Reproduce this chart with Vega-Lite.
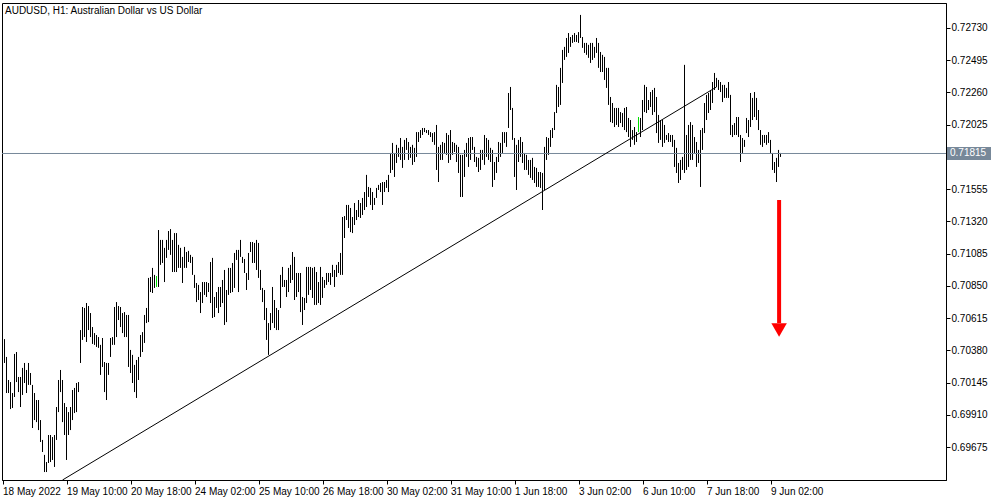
{
"$schema": "https://vega.github.io/schema/vega-lite/v6.json",
"width": 944, "height": 477,
"autosize": "none",
"padding": {"left": 2, "top": 3, "right": 54, "bottom": 20},
"background": "white",
"config": {"view": {"stroke": "black", "strokeWidth": 1}, "font": "Liberation Sans", "axis": {"labelOverlap": false, "labelFlush": false, "labelBound": false, "grid": false}},
"datasets": {
"bars": [
{"i":0,"h":0.70462,"l":0.70288},{"i":1,"h":0.70332,"l":0.70069},{"i":2,"h":0.70164,"l":0.70069},{"i":3,"h":0.70149,"l":0.69952},{"i":4,"h":0.70069,"l":0.69960},
{"i":5,"h":0.70354,"l":0.70040},{"i":6,"h":0.70368,"l":0.70149},{"i":7,"h":0.70186,"l":0.70076},{"i":8,"h":0.70186,"l":0.69967},{"i":9,"h":0.70252,"l":0.70055},
{"i":10,"h":0.70288,"l":0.70142},{"i":11,"h":0.70237,"l":0.70069},{"i":12,"h":0.70288,"l":0.70128},{"i":13,"h":0.70215,"l":0.70128},{"i":14,"h":0.70128,"l":0.69814},
{"i":15,"h":0.70069,"l":0.69872},{"i":16,"h":0.70018,"l":0.69857},{"i":17,"h":0.70018,"l":0.69799},{"i":18,"h":0.69872,"l":0.69712},{"i":19,"h":0.69727,"l":0.69639},
{"i":20,"h":0.69618,"l":0.69493},{"i":21,"h":0.69566,"l":0.69493},{"i":22,"h":0.69763,"l":0.69559},{"i":23,"h":0.69763,"l":0.69566},{"i":24,"h":0.69748,"l":0.69581},
{"i":25,"h":0.69763,"l":0.69530},{"i":26,"h":0.69967,"l":0.69727},{"i":27,"h":0.70164,"l":0.69930},{"i":28,"h":0.70237,"l":0.70076},{"i":29,"h":0.70164,"l":0.69857},
{"i":30,"h":0.69996,"l":0.69763},{"i":31,"h":0.69967,"l":0.69581},{"i":32,"h":0.69930,"l":0.69763},{"i":33,"h":0.69967,"l":0.69799},{"i":34,"h":0.70091,"l":0.69872},
{"i":35,"h":0.70106,"l":0.69923},{"i":36,"h":0.70142,"l":0.69930},{"i":37,"h":0.70149,"l":0.70076},{"i":38,"h":0.70528,"l":0.70288},{"i":39,"h":0.70696,"l":0.70456},
{"i":40,"h":0.70689,"l":0.70477},{"i":41,"h":0.70725,"l":0.70441},{"i":42,"h":0.70703,"l":0.70528},{"i":43,"h":0.70652,"l":0.70477},{"i":44,"h":0.70550,"l":0.70427},
{"i":45,"h":0.70506,"l":0.70420},{"i":46,"h":0.70492,"l":0.70405},{"i":47,"h":0.70477,"l":0.70398},{"i":48,"h":0.70420,"l":0.70201},{"i":49,"h":0.70470,"l":0.70259},
{"i":50,"h":0.70295,"l":0.70076},{"i":51,"h":0.70288,"l":0.70018},{"i":52,"h":0.70288,"l":0.70201},{"i":53,"h":0.70470,"l":0.70332},{"i":54,"h":0.70477,"l":0.70420},
{"i":55,"h":0.70696,"l":0.70420},{"i":56,"h":0.70732,"l":0.70477},{"i":57,"h":0.70703,"l":0.70601},{"i":58,"h":0.70696,"l":0.70550},{"i":59,"h":0.70652,"l":0.70506},
{"i":60,"h":0.70659,"l":0.70477},{"i":61,"h":0.70638,"l":0.70477},{"i":62,"h":0.70638,"l":0.70259},{"i":63,"h":0.70383,"l":0.70215},{"i":64,"h":0.70347,"l":0.70142},
{"i":65,"h":0.70274,"l":0.70076},{"i":66,"h":0.70310,"l":0.70033},{"i":67,"h":0.70332,"l":0.70164},{"i":68,"h":0.70492,"l":0.70332},{"i":69,"h":0.70513,"l":0.70368},
{"i":70,"h":0.70638,"l":0.70434},{"i":71,"h":0.70689,"l":0.70579},{"i":72,"h":0.70908,"l":0.70586},{"i":73,"h":0.70915,"l":0.70805},{"i":74,"h":0.70981,"l":0.70798},
{"i":75,"h":0.70930,"l":0.70835},{"i":76,"h":0.70922,"l":0.70842,"t":"g"},{"i":77,"h":0.71257,"l":0.70842},{"i":78,"h":0.71185,"l":0.71003},{"i":79,"h":0.71185,"l":0.71017},
{"i":80,"h":0.71127,"l":0.70878},{"i":81,"h":0.71185,"l":0.71054},{"i":82,"h":0.71250,"l":0.71112},{"i":83,"h":0.71264,"l":0.71076},{"i":84,"h":0.71185,"l":0.70951},
{"i":85,"h":0.71235,"l":0.70951},{"i":86,"h":0.71235,"l":0.70951},{"i":87,"h":0.71149,"l":0.70981},{"i":88,"h":0.71127,"l":0.70981},{"i":89,"h":0.71061,"l":0.70871},
{"i":90,"h":0.71134,"l":0.70981},{"i":91,"h":0.71097,"l":0.70981},{"i":92,"h":0.71105,"l":0.71024},{"i":93,"h":0.71076,"l":0.71017},{"i":94,"h":0.71061,"l":0.70930},
{"i":95,"h":0.70930,"l":0.70835},{"i":96,"h":0.70871,"l":0.70732},{"i":97,"h":0.70857,"l":0.70747},{"i":98,"h":0.70805,"l":0.70652},{"i":99,"h":0.70878,"l":0.70725},
{"i":100,"h":0.70878,"l":0.70784},{"i":101,"h":0.70878,"l":0.70769},{"i":102,"h":0.70871,"l":0.70805},{"i":103,"h":0.71024,"l":0.70725},{"i":104,"h":0.71054,"l":0.70616},
{"i":105,"h":0.70769,"l":0.70623},{"i":106,"h":0.70805,"l":0.70689},{"i":107,"h":0.70842,"l":0.70652},{"i":108,"h":0.70842,"l":0.70696},{"i":109,"h":0.70893,"l":0.70725},
{"i":110,"h":0.70966,"l":0.70565},{"i":111,"h":0.70820,"l":0.70586},{"i":112,"h":0.70981,"l":0.70784},{"i":113,"h":0.70981,"l":0.70798},{"i":114,"h":0.71017,"l":0.70805},
{"i":115,"h":0.71090,"l":0.70835},{"i":116,"h":0.71112,"l":0.71039},{"i":117,"h":0.71112,"l":0.70805},{"i":118,"h":0.71185,"l":0.71061},{"i":119,"h":0.71061,"l":0.71017},
{"i":120,"h":0.71046,"l":0.70944},{"i":121,"h":0.70944,"l":0.70820},{"i":122,"h":0.71090,"l":0.70893},{"i":123,"h":0.71170,"l":0.71097},{"i":124,"h":0.71170,"l":0.71017},
{"i":125,"h":0.71163,"l":0.71017},{"i":126,"h":0.71185,"l":0.70966},{"i":127,"h":0.71163,"l":0.70908},{"i":128,"h":0.70966,"l":0.70820},{"i":129,"h":0.70835,"l":0.70732},
{"i":130,"h":0.70820,"l":0.70601},{"i":131,"h":0.70689,"l":0.70456},{"i":132,"h":0.70579,"l":0.70347},{"i":133,"h":0.70652,"l":0.70528},{"i":134,"h":0.70842,"l":0.70579},
{"i":135,"h":0.70747,"l":0.70543},{"i":136,"h":0.70689,"l":0.70528},{"i":137,"h":0.70674,"l":0.70528},{"i":138,"h":0.70930,"l":0.70689},{"i":139,"h":0.70988,"l":0.70842},
{"i":140,"h":0.70893,"l":0.70842},{"i":141,"h":0.70893,"l":0.70769},{"i":142,"h":0.70981,"l":0.70805},{"i":143,"h":0.71003,"l":0.70871},{"i":144,"h":0.71097,"l":0.70893},
{"i":145,"h":0.71061,"l":0.70747},{"i":146,"h":0.70944,"l":0.70769},{"i":147,"h":0.70944,"l":0.70805},{"i":148,"h":0.70944,"l":0.70659},{"i":149,"h":0.70769,"l":0.70565},
{"i":150,"h":0.70762,"l":0.70674},{"i":151,"h":0.70988,"l":0.70725},{"i":152,"h":0.70988,"l":0.70784},{"i":153,"h":0.70988,"l":0.70820},{"i":154,"h":0.70981,"l":0.70762},
{"i":155,"h":0.70988,"l":0.70711},{"i":156,"h":0.70951,"l":0.70711},{"i":157,"h":0.70878,"l":0.70725},{"i":158,"h":0.70988,"l":0.70711},{"i":159,"h":0.70915,"l":0.70762},
{"i":160,"h":0.70893,"l":0.70835},{"i":161,"h":0.70944,"l":0.70857},{"i":162,"h":0.70944,"l":0.70878},{"i":163,"h":0.70944,"l":0.70857},{"i":164,"h":0.71003,"l":0.70915},
{"i":165,"h":0.70966,"l":0.70842},{"i":166,"h":0.71003,"l":0.70915},{"i":167,"h":0.71024,"l":0.70944},{"i":168,"h":0.71090,"l":0.70930},{"i":169,"h":0.71352,"l":0.70930},
{"i":170,"h":0.71359,"l":0.71199},{"i":171,"h":0.71440,"l":0.71330},{"i":172,"h":0.71440,"l":0.71272},{"i":173,"h":0.71418,"l":0.71242},{"i":174,"h":0.71352,"l":0.71235},
{"i":175,"h":0.71454,"l":0.71294},{"i":176,"h":0.71403,"l":0.71330},{"i":177,"h":0.71476,"l":0.71352},{"i":178,"h":0.71454,"l":0.71345},{"i":179,"h":0.71491,"l":0.71367},
{"i":180,"h":0.71534,"l":0.71403},{"i":181,"h":0.71659,"l":0.71425},{"i":182,"h":0.71571,"l":0.71498},{"i":183,"h":0.71564,"l":0.71440},{"i":184,"h":0.71534,"l":0.71403},
{"i":185,"h":0.71491,"l":0.71440},{"i":186,"h":0.71564,"l":0.71491},{"i":187,"h":0.71586,"l":0.71549},{"i":188,"h":0.71600,"l":0.71534},{"i":189,"h":0.71607,"l":0.71440},
{"i":190,"h":0.71607,"l":0.71534},{"i":191,"h":0.71622,"l":0.71564},{"i":192,"h":0.71659,"l":0.71534},{"i":193,"h":0.71819,"l":0.71673},{"i":194,"h":0.71892,"l":0.71695},
{"i":195,"h":0.71819,"l":0.71644},{"i":196,"h":0.71878,"l":0.71746},{"i":197,"h":0.71856,"l":0.71790},{"i":198,"h":0.71928,"l":0.71768},{"i":199,"h":0.71863,"l":0.71710},
{"i":200,"h":0.71914,"l":0.71768},{"i":201,"h":0.71928,"l":0.71841},{"i":202,"h":0.71899,"l":0.71768},{"i":203,"h":0.71863,"l":0.71783},{"i":204,"h":0.71878,"l":0.71732},
{"i":205,"h":0.71856,"l":0.71753},{"i":206,"h":0.71971,"l":0.71790},{"i":207,"h":0.71971,"l":0.71899},{"i":208,"h":0.71986,"l":0.71928},{"i":209,"h":0.72001,"l":0.71950},
{"i":210,"h":0.72001,"l":0.71971},{"i":211,"h":0.71986,"l":0.71964},{"i":212,"h":0.71986,"l":0.71950},{"i":213,"h":0.71971,"l":0.71935},{"i":214,"h":0.71964,"l":0.71899},
{"i":215,"h":0.71971,"l":0.71878},{"i":216,"h":0.72023,"l":0.71695},{"i":217,"h":0.71863,"l":0.71607},{"i":218,"h":0.71878,"l":0.71768},{"i":219,"h":0.71899,"l":0.71768},
{"i":220,"h":0.71892,"l":0.71819},{"i":221,"h":0.71964,"l":0.71805},{"i":222,"h":0.71950,"l":0.71746},{"i":223,"h":0.71986,"l":0.71768},{"i":224,"h":0.71899,"l":0.71805},
{"i":225,"h":0.71892,"l":0.71826},{"i":226,"h":0.71878,"l":0.71753},{"i":227,"h":0.71863,"l":0.71673},{"i":228,"h":0.71805,"l":0.71498},{"i":229,"h":0.71805,"l":0.71498},
{"i":230,"h":0.71841,"l":0.71644},{"i":231,"h":0.71892,"l":0.71790},{"i":232,"h":0.71928,"l":0.71717},{"i":233,"h":0.71935,"l":0.71768},{"i":234,"h":0.71935,"l":0.71841},
{"i":235,"h":0.71863,"l":0.71753},{"i":236,"h":0.71790,"l":0.71717},{"i":237,"h":0.71783,"l":0.71680},{"i":238,"h":0.71841,"l":0.71695},{"i":239,"h":0.71841,"l":0.71768},
{"i":240,"h":0.71950,"l":0.71732},{"i":241,"h":0.71928,"l":0.71790},{"i":242,"h":0.71914,"l":0.71768},{"i":243,"h":0.71856,"l":0.71753},{"i":244,"h":0.71841,"l":0.71571},
{"i":245,"h":0.71753,"l":0.71622},{"i":246,"h":0.71790,"l":0.71673},{"i":247,"h":0.71899,"l":0.71753},{"i":248,"h":0.71892,"l":0.71790},{"i":249,"h":0.71971,"l":0.71819},
{"i":250,"h":0.71971,"l":0.71892},{"i":251,"h":0.71971,"l":0.71863},{"i":252,"h":0.72256,"l":0.72001},{"i":253,"h":0.72300,"l":0.72132},{"i":254,"h":0.72147,"l":0.71914},
{"i":255,"h":0.71928,"l":0.71644},{"i":256,"h":0.71878,"l":0.71549},{"i":257,"h":0.71914,"l":0.71753},{"i":258,"h":0.71935,"l":0.71790},{"i":259,"h":0.71899,"l":0.71746},
{"i":260,"h":0.71819,"l":0.71695},{"i":261,"h":0.71805,"l":0.71695},{"i":262,"h":0.71768,"l":0.71659},{"i":263,"h":0.71768,"l":0.71637},{"i":264,"h":0.71783,"l":0.71622},
{"i":265,"h":0.71717,"l":0.71600},{"i":266,"h":0.71710,"l":0.71571},{"i":267,"h":0.71680,"l":0.71571},{"i":268,"h":0.71680,"l":0.71564},{"i":269,"h":0.71673,"l":0.71403},
{"i":270,"h":0.71863,"l":0.71549},{"i":271,"h":0.71935,"l":0.71768},{"i":272,"h":0.71928,"l":0.71805},{"i":273,"h":0.71986,"l":0.71863},{"i":274,"h":0.72001,"l":0.71928},
{"i":275,"h":0.72117,"l":0.71986},{"i":276,"h":0.72315,"l":0.72110},{"i":277,"h":0.72300,"l":0.72154},{"i":278,"h":0.72439,"l":0.72169},{"i":279,"h":0.72570,"l":0.72329},
{"i":280,"h":0.72592,"l":0.72497},{"i":281,"h":0.72657,"l":0.72519},{"i":282,"h":0.72693,"l":0.72548},{"i":283,"h":0.72664,"l":0.72592},{"i":284,"h":0.72679,"l":0.72621},
{"i":285,"h":0.72693,"l":0.72628},{"i":286,"h":0.72679,"l":0.72628},{"i":287,"h":0.72700,"l":0.72621},{"i":288,"h":0.72825,"l":0.72657},{"i":289,"h":0.72664,"l":0.72585},
{"i":290,"h":0.72621,"l":0.72548},{"i":291,"h":0.72621,"l":0.72534},{"i":292,"h":0.72607,"l":0.72512},{"i":293,"h":0.72621,"l":0.72475},{"i":294,"h":0.72621,"l":0.72497},
{"i":295,"h":0.72592,"l":0.72512},{"i":296,"h":0.72657,"l":0.72548},{"i":297,"h":0.72621,"l":0.72439},{"i":298,"h":0.72555,"l":0.72409},{"i":299,"h":0.72534,"l":0.72409},
{"i":300,"h":0.72519,"l":0.72351},{"i":301,"h":0.72439,"l":0.72293},{"i":302,"h":0.72439,"l":0.72169},{"i":303,"h":0.72227,"l":0.72044},{"i":304,"h":0.72183,"l":0.72037},
{"i":305,"h":0.72147,"l":0.72008},{"i":306,"h":0.72147,"l":0.72023},{"i":307,"h":0.72147,"l":0.72008},{"i":308,"h":0.72117,"l":0.72037},{"i":309,"h":0.72110,"l":0.72008},
{"i":310,"h":0.72147,"l":0.71986},{"i":311,"h":0.72154,"l":0.71971},{"i":312,"h":0.72074,"l":0.71935},{"i":313,"h":0.72059,"l":0.71863},{"i":314,"h":0.71986,"l":0.71914},
{"i":315,"h":0.72008,"l":0.71878},{"i":316,"h":0.71971,"l":0.71899},{"i":317,"h":0.72081,"l":0.71971,"t":"g"},{"i":318,"h":0.72074,"l":0.71935},{"i":319,"h":0.72205,"l":0.71986},
{"i":320,"h":0.72315,"l":0.72117},{"i":321,"h":0.72300,"l":0.72110},{"i":322,"h":0.72205,"l":0.72132},{"i":323,"h":0.72263,"l":0.72154},{"i":324,"h":0.72278,"l":0.72096},
{"i":325,"h":0.72293,"l":0.72117},{"i":326,"h":0.72227,"l":0.71964},{"i":327,"h":0.72096,"l":0.71892},{"i":328,"h":0.72059,"l":0.71914},{"i":329,"h":0.72059,"l":0.71863},
{"i":330,"h":0.72023,"l":0.71892},{"i":331,"h":0.71950,"l":0.71914},{"i":332,"h":0.71964,"l":0.71899},{"i":333,"h":0.71950,"l":0.71899},{"i":334,"h":0.71950,"l":0.71863},
{"i":335,"h":0.71914,"l":0.71717},{"i":336,"h":0.71856,"l":0.71673},{"i":337,"h":0.71746,"l":0.71600},{"i":338,"h":0.71768,"l":0.71622},{"i":339,"h":0.71790,"l":0.71695},
{"i":340,"h":0.72461,"l":0.71673},{"i":341,"h":0.71950,"l":0.71695},{"i":342,"h":0.72023,"l":0.71717},{"i":343,"h":0.72044,"l":0.71768},{"i":344,"h":0.72023,"l":0.71768},
{"i":345,"h":0.71935,"l":0.71819},{"i":346,"h":0.71899,"l":0.71717},{"i":347,"h":0.71841,"l":0.71746},{"i":348,"h":0.71986,"l":0.71571},{"i":349,"h":0.72001,"l":0.71841},
{"i":350,"h":0.72183,"l":0.71964},{"i":351,"h":0.72242,"l":0.72059},{"i":352,"h":0.72256,"l":0.72110},{"i":353,"h":0.72278,"l":0.72132},{"i":354,"h":0.72336,"l":0.72183},
{"i":355,"h":0.72402,"l":0.72278},{"i":356,"h":0.72366,"l":0.72300},{"i":357,"h":0.72351,"l":0.72278},{"i":358,"h":0.72336,"l":0.72263},{"i":359,"h":0.72315,"l":0.72190},
{"i":360,"h":0.72315,"l":0.72220},{"i":361,"h":0.72293,"l":0.72220},{"i":362,"h":0.72336,"l":0.72220},{"i":363,"h":0.72242,"l":0.71950},{"i":364,"h":0.72023,"l":0.71935},
{"i":365,"h":0.72037,"l":0.71950},{"i":366,"h":0.72081,"l":0.71950},{"i":367,"h":0.72081,"l":0.71935},{"i":368,"h":0.71950,"l":0.71753},{"i":369,"h":0.71928,"l":0.71819},
{"i":370,"h":0.71914,"l":0.71863},{"i":371,"h":0.72074,"l":0.71964},{"i":372,"h":0.72059,"l":0.71935},{"i":373,"h":0.72256,"l":0.72008},{"i":374,"h":0.72220,"l":0.72059},
{"i":375,"h":0.72263,"l":0.72081},{"i":376,"h":0.72220,"l":0.72059},{"i":377,"h":0.72132,"l":0.71986},{"i":378,"h":0.71986,"l":0.71878},{"i":379,"h":0.71950,"l":0.71863},
{"i":380,"h":0.71950,"l":0.71892},{"i":381,"h":0.71950,"l":0.71878},{"i":382,"h":0.71971,"l":0.71892},{"i":383,"h":0.71914,"l":0.71819},{"i":384,"h":0.71819,"l":0.71695},
{"i":385,"h":0.71753,"l":0.71673},{"i":386,"h":0.71783,"l":0.71607},{"i":387,"h":0.71841,"l":0.71717},{"i":388,"h":0.71819,"l":0.71790}
],
"trend": [{"i": 29, "p": 0.69435}, {"i": 356, "p": 0.72300}]
},
"layer": [
{"data": {"name": "bars"}, "mark": {"type": "rule", "strokeWidth": 1},
 "encoding": {
  "x": {"field": "i", "type": "quantitative", "title": null,
        "scale": {"domain": [-1.25, 470.75], "nice": false, "zero": false},
        "axis": {"orient": "bottom", "values": [-1, 31, 63, 95, 127, 159, 191, 223, 255, 287, 319, 351, 383], "tickCount": 30,
                 "labelExpr": "['18 May 2022','19 May 10:00','20 May 18:00','24 May 02:00','25 May 10:00','26 May 18:00','30 May 02:00','31 May 10:00','1 Jun 18:00','3 Jun 02:00','6 Jun 10:00','7 Jun 18:00','9 Jun 02:00'][round((datum.value+1)/32)]",
                 "labelAlign": "left", "labelBaseline": "top", "labelPadding": 2, "labelFont": "Liberation Sans", "labelFontSize": 10, "labelColor": "black",
                 "tickColor": "black", "tickSize": 4, "domainColor": "black", "grid": false, "labelFlush": false, "labelOverlap": false, "labelBound": false}},
  "y": {"field": "l", "type": "quantitative", "title": null,
        "scale": {"domain": [0.69435, 0.72912], "nice": false, "zero": false},
        "axis": {"orient": "right", "values": [0.7273, 0.72495, 0.7226, 0.72025, 0.7179, 0.71555, 0.7132, 0.71085, 0.7085, 0.70615, 0.7038, 0.70145, 0.6991, 0.69675], "tickCount": 30,
                 "format": ".5f", "labelAlign": "left", "labelBaseline": "middle", "labelPadding": 1, "labelFont": "Liberation Sans", "labelFontSize": 10, "labelColor": "black",
                 "tickColor": "black", "tickSize": 4, "domainColor": "black", "grid": false, "labelFlush": false, "labelOverlap": false, "labelBound": false}},
  "y2": {"field": "h"},
  "color": {"condition": {"test": "datum.t === 'g'", "value": "#00e000"}, "value": "black"}
 }},
{"data": {"values": [{}]}, "mark": {"type": "rule", "color": "#778899", "strokeWidth": 1},
 "encoding": {"y": {"datum": 0.71815, "type": "quantitative"}}},
{"data": {"name": "trend"}, "mark": {"type": "line", "color": "black", "strokeWidth": 1, "clip": true},
 "encoding": {"x": {"field": "i", "type": "quantitative"}, "y": {"field": "p", "type": "quantitative"}}},
{"data": {"values": [{}]}, "mark": {"type": "rule", "color": "#ff0000", "strokeWidth": 4},
 "encoding": {"x": {"datum": 387.3, "type": "quantitative"}, "y": {"datum": 0.71476, "type": "quantitative"}, "y2": {"datum": 0.70579}}},
{"data": {"values": [{}]}, "mark": {"type": "point", "shape": "triangle-down", "filled": true, "color": "#ff0000", "opacity": 1, "size": 240, "strokeWidth": 0},
 "encoding": {"x": {"datum": 387.3, "type": "quantitative"}, "y": {"datum": 0.70528, "type": "quantitative"}}},
{"data": {"values": [{}]}, "mark": {"type": "rect", "color": "#778899", "clip": false},
 "encoding": {"x": {"datum": 471.25, "type": "quantitative"}, "x2": {"datum": 493.25}, "y": {"datum": 0.71862, "type": "quantitative"}, "y2": {"datum": 0.71768}}},
{"data": {"values": [{}]}, "mark": {"type": "text", "color": "white", "align": "left", "baseline": "middle", "font": "Liberation Sans", "fontSize": 10},
 "encoding": {"x": {"datum": 472.75, "type": "quantitative"}, "y": {"datum": 0.71815, "type": "quantitative"}, "text": {"value": "0.71815"}}},
{"data": {"values": [{}]}, "mark": {"type": "text", "color": "black", "align": "left", "baseline": "top", "font": "Liberation Sans", "fontSize": 10, "dx": 3, "dy": 3},
 "encoding": {"x": {"datum": -1.25, "type": "quantitative"}, "y": {"datum": 0.72912, "type": "quantitative"}, "text": {"value": "AUDUSD, H1:  Australian Dollar vs US Dollar"}}}
]
}
